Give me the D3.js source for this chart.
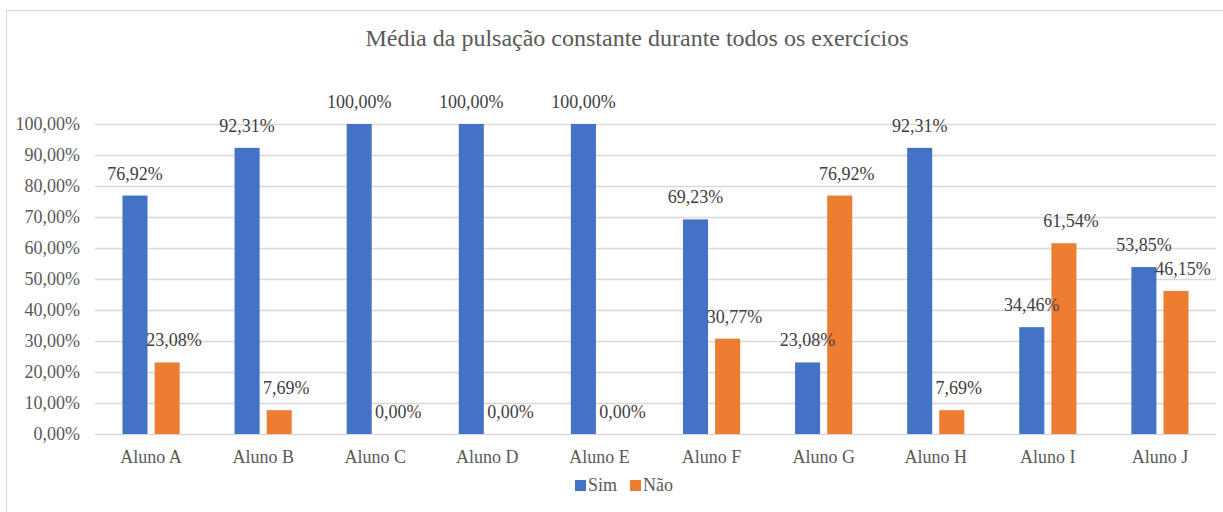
<!DOCTYPE html>
<html>
<head>
<meta charset="utf-8">
<script src="https://cdn.jsdelivr.net/npm/d3@7"></script>
<style>
  body { margin: 0; background: #fff; }
  svg, svg text { font-family: 'Liberation Serif', serif !important; }
</style>
</head>
<body>
<div id="chart"></div>
<script>
const categories = ["Aluno A", "Aluno B", "Aluno C", "Aluno D", "Aluno E", "Aluno F", "Aluno G", "Aluno H", "Aluno I", "Aluno J"];
const seriesNames = ["Sim", "Não"];
const sim = [0.7692, 0.9231, 1.0, 1.0, 1.0, 0.6923, 0.2308, 0.9231, 0.3446, 0.5385];
const nao = [0.2308, 0.0769, 0.0, 0.0, 0.0, 0.3077, 0.7692, 0.0769, 0.6154, 0.4615];
const yTicks = [0, 0.1, 0.2, 0.3, 0.4, 0.5, 0.6, 0.7, 0.8, 0.9, 1.0];
const colors = ["#4472C4", "#ED7D31"];

const FONT = "'Liberation Serif', serif";
const W = 1223, H = 512;
const svg = d3.select("#chart").append("svg")
  .attr("width", W)
  .attr("height", H)
  .style("font-family", FONT);

// chart border
svg.append("rect")
  .attr("x", 6.5).attr("y", 10.5)
  .attr("width", W + 10).attr("height", H + 10)
  .attr("fill", "none")
  .attr("stroke", "#d9d9d9");

const locale = d3.formatLocale({ decimal: ",", thousands: ".", grouping: [3], currency: ["", ""] });
const pct = locale.format(".2%");

const x = d3.scaleBand().domain(categories).range([95, 1216]).paddingInner(0.49).paddingOuter(0.245);
const xs = d3.scaleBand().domain(seriesNames).range([0, x.bandwidth()]).paddingInner(0.22);
const y = d3.scaleLinear().domain([0, 1]).range([434, 124]);

// gridlines
svg.append("g")
  .selectAll("line")
  .data(yTicks)
  .enter()
  .append("line")
  .attr("x1", 95).attr("x2", 1216)
  .attr("y1", function(d) { return Math.round(y(d)) + 0.5 })
  .attr("y2", function(d) { return Math.round(y(d)) + 0.5 })
  .attr("stroke", "#d9d9d9")
  .attr("stroke-width", 1.5);

// y axis labels
const yAxis = svg.append("g")
  .attr("transform", "translate(80,0)")
  .call(d3.axisLeft(y).tickValues(yTicks).tickFormat(pct).tickSize(0).tickPadding(0));
yAxis.select(".domain").remove();
yAxis.attr("font-family", null).attr("font-size", 18);
yAxis.selectAll("text")
  .attr("fill", "#595959");

// x axis labels
const xAxis = svg.append("g")
  .attr("transform", "translate(0,434)")
  .call(d3.axisBottom(x).tickSize(0).tickPadding(16));
xAxis.select(".domain").remove();
xAxis.attr("font-family", null).attr("font-size", 18);
xAxis.selectAll("text")
  .attr("fill", "#595959");

const rows = categories.map(function(c, i) {
  return [
    { cat: c, s: "Sim", v: sim[i], c: colors[0] },
    { cat: c, s: "Não", v: nao[i], c: colors[1] }
  ];
});

const groups = svg.append("g")
  .selectAll("g")
  .data(rows)
  .enter()
  .append("g")
  .attr("transform", function(d) { return "translate(" + x(d[0].cat) + ",0)" });

groups.selectAll("rect")
  .data(function(d) { return d })
  .enter()
  .append("rect")
  .attr("x", function(d) { return xs(d.s) })
  .attr("y", function(d) { return y(d.v) })
  .attr("width", xs.bandwidth())
  .attr("height", function(d) { return y(0) - y(d.v) })
  .attr("fill", function(d) { return d.c });

groups.selectAll("text")
  .data(function(d) { return d })
  .enter()
  .append("text")
  .attr("x", function(d) { return xs(d.s) + xs.bandwidth() / 2 + (d.s === "Não" ? 7 : 0) })
  .attr("y", function(d) { return y(d.v) - 16 })
  .attr("text-anchor", "middle")
  .attr("font-size", 18)
  .attr("fill", "#404040")
  .text(function(d) { return pct(d.v) });

// title
svg.append("text")
  .attr("x", 637)
  .attr("y", 46)
  .attr("text-anchor", "middle")
  .attr("font-size", 24)
  .attr("fill", "#595959")
  .text("Média da pulsação constante durante todos os exercícios");

// legend
const legend = svg.append("g")
  .selectAll("g")
  .data(seriesNames)
  .enter()
  .append("g")
  .attr("transform", function(d, i) { return "translate(" + (575 + i * 55) + ",480)" });
legend.append("rect")
  .attr("width", 11).attr("height", 11)
  .attr("fill", function(d, i) { return colors[i] });
legend.append("text")
  .attr("x", 13).attr("y", 11)
  .attr("font-size", 18)
  .attr("fill", "#595959")
  .text(function(d) { return d });
</script>
</body>
</html>
